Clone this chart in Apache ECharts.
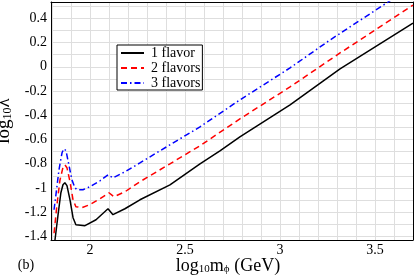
<!DOCTYPE html>
<html>
<head>
<meta charset="utf-8">
<script src="https://cdn.jsdelivr.net/npm/echarts@6/dist/echarts.min.js"></script>
<style>html,body{margin:0;padding:0;background:#fff;}#c{width:415px;height:280px;}</style>
</head>
<body>
<div id="c"></div>
<script>
// ---- data ----
var seriesNames = ['1 flavor', '2 flavors', '3 flavors'];
var xTickLabels = ['2', '2.5', '3', '3.5'];
var yTickLabels = ['-1.4', '-1.2', '-1', '-0.8', '-0.6', '-0.4', '-0.2', '0', '0.2', '0.4'];

var flavor1X = [1.816, 1.832, 1.847, 1.858, 1.868, 1.879, 1.895, 1.911, 1.926, 1.974, 2.032, 2.095, 2.121, 2.184, 2.263, 2.421, 2.579, 2.684, 2.789, 3.053, 3.316, 3.70];
var flavor1Y = [-1.43, -1.222, -1.04, -0.974, -0.957, -0.981, -1.098, -1.246, -1.304, -1.312, -1.263, -1.172, -1.221, -1.172, -1.098, -0.975, -0.801, -0.694, -0.578, -0.314, -0.018, 0.361];

var flavor2X = [1.811, 1.826, 1.842, 1.858, 1.868, 1.879, 1.895, 1.911, 1.926, 1.958, 2.0, 2.053, 2.1, 2.126, 2.184, 2.263, 2.421, 2.579, 2.789, 3.053, 3.316, 3.70];
var flavor2Y = [-1.374, -1.143, -0.937, -0.83, -0.809, -0.833, -0.949, -1.098, -1.155, -1.163, -1.138, -1.089, -1.04, -1.073, -1.032, -0.949, -0.801, -0.652, -0.43, -0.166, 0.114, 0.51];

var flavor3X = [1.811, 1.821, 1.837, 1.853, 1.863, 1.874, 1.889, 1.905, 1.921, 1.932, 1.963, 2.0, 2.053, 2.095, 2.121, 2.184, 2.263, 2.421, 2.579, 2.789, 3.053, 3.263, 3.568, 3.70];
var flavor3Y = [-1.18, -1.056, -0.85, -0.71, -0.677, -0.693, -0.809, -0.933, -0.999, -1.015, -1.015, -0.99, -0.941, -0.892, -0.917, -0.867, -0.793, -0.644, -0.496, -0.273, -0.009, 0.221, 0.534, 0.674];

function pairs(xs, ys) { return xs.map(function (x, i) { return [x, ys[i]]; }); }

var SERIF = "'Liberation Serif', 'DejaVu Serif', serif";
var chart = echarts.init(document.getElementById('c'), null, { renderer: 'canvas' });

function near(v, list) {
  for (var i = 0; i < list.length; i++) { if (Math.abs(v - parseFloat(list[i])) < 1e-6) return list[i]; }
  return '';
}

var richTitle = {
  a: { fontFamily: SERIF, fontSize: 19, lineHeight: 22, verticalAlign: 'bottom', color: '#000' },
  s: { fontFamily: SERIF, fontSize: 12, lineHeight: 10, verticalAlign: 'bottom', color: '#000' }
};

function frameAxis(extra) {
  return Object.assign({
    type: 'value', show: true,
    axisLine: { show: true, onZero: false, lineStyle: { color: '#000', width: 1 } },
    axisTick: { show: false }, axisLabel: { show: false }, splitLine: { show: false }
  }, extra);
}

chart.setOption({
  animation: false,
  backgroundColor: '#fff',
  grid: { left: 51, right: 2, top: 2, bottom: 40, containLabel: false, outerBoundsMode: 'none' },
  xAxis: [
    {
      type: 'value', min: 1.795, max: 3.70, minInterval: 0.1, maxInterval: 0.1,
      axisLine: { show: true, onZero: false, lineStyle: { color: '#000', width: 1 } },
      axisTick: { show: false },
      axisLabel: { showMinLabel: false, showMaxLabel: false, margin: 3, color: '#000', fontFamily: SERIF, fontSize: 14,
        formatter: function (v) { return near(v, xTickLabels); } },
      splitLine: { show: true, lineStyle: { color: '#dedede', width: 1 } }
    },
    frameAxis({ position: 'top', min: 1.795, max: 3.70 })
  ],
  yAxis: [
    {
      type: 'value', min: -1.43, max: 0.535, minInterval: 0.1, maxInterval: 0.1,
      name: '{a|log}{s|10}{a|λ}', nameLocation: 'middle', nameGap: 32, nameRotate: 90,
      nameTextStyle: { rich: richTitle },
      axisLine: { show: true, onZero: false, lineStyle: { color: '#000', width: 1 } },
      axisTick: { show: false },
      axisLabel: { showMinLabel: false, showMaxLabel: false, margin: 4, color: '#000', fontFamily: SERIF, fontSize: 14,
        formatter: function (v) { return near(v, yTickLabels); } },
      splitLine: { show: true, lineStyle: { color: '#dedede', width: 1 } }
    },
    frameAxis({ position: 'right', min: -1.43, max: 0.535 })
  ],
  legend: {
    orient: 'vertical', left: 117, top: 45,
    data: seriesNames,
    backgroundColor: '#fff', borderColor: '#000', borderWidth: 1,
    padding: [1, 2, 0, 3], itemGap: 1, itemWidth: 23, itemHeight: 12,
    itemStyle: { opacity: 0, color: 'transparent', borderColor: 'transparent', borderWidth: 0 },
    textStyle: { fontFamily: SERIF, fontSize: 14, color: '#000', lineHeight: 13, padding: [0, 0, 0, 2] }
  },
  series: [
    { name: seriesNames[0], type: 'line', xAxisIndex: 0, yAxisIndex: 0, showSymbol: false, symbol: 'none', clip: true,
      lineStyle: { color: '#000', width: 1.5, type: 'solid' }, itemStyle: { color: '#000' },
      data: pairs(flavor1X, flavor1Y) },
    { name: seriesNames[1], type: 'line', xAxisIndex: 0, yAxisIndex: 0, showSymbol: false, symbol: 'none', clip: true,
      lineStyle: { color: '#ff0000', width: 1.5, type: [6, 4] }, itemStyle: { color: '#ff0000' },
      data: pairs(flavor2X, flavor2Y) },
    { name: seriesNames[2], type: 'line', xAxisIndex: 0, yAxisIndex: 0, showSymbol: false, symbol: 'none', clip: true,
      lineStyle: { color: '#0000ff', width: 1.5, type: [6, 3, 1.5, 3] }, itemStyle: { color: '#0000ff' },
      data: pairs(flavor3X, flavor3Y) }
  ],
  graphic: [
    { type: 'text', x: 228, y: 264,
      style: { text: '{a|log}{s|10}{a|m}{s|ϕ}{a| (GeV)}', align: 'center', verticalAlign: 'middle',
        rich: {
          a: { fontFamily: SERIF, fontSize: 18, lineHeight: 22, verticalAlign: 'bottom', fill: '#000' },
          s: { fontFamily: SERIF, fontSize: 11, lineHeight: 10, verticalAlign: 'bottom', fill: '#000' } } } },
    { type: 'text', x: 26, y: 265,
      style: { text: '(b)', align: 'center', verticalAlign: 'middle', font: '14px ' + SERIF, fill: '#000' } }
  ]
});
</script>
</body>
</html>
